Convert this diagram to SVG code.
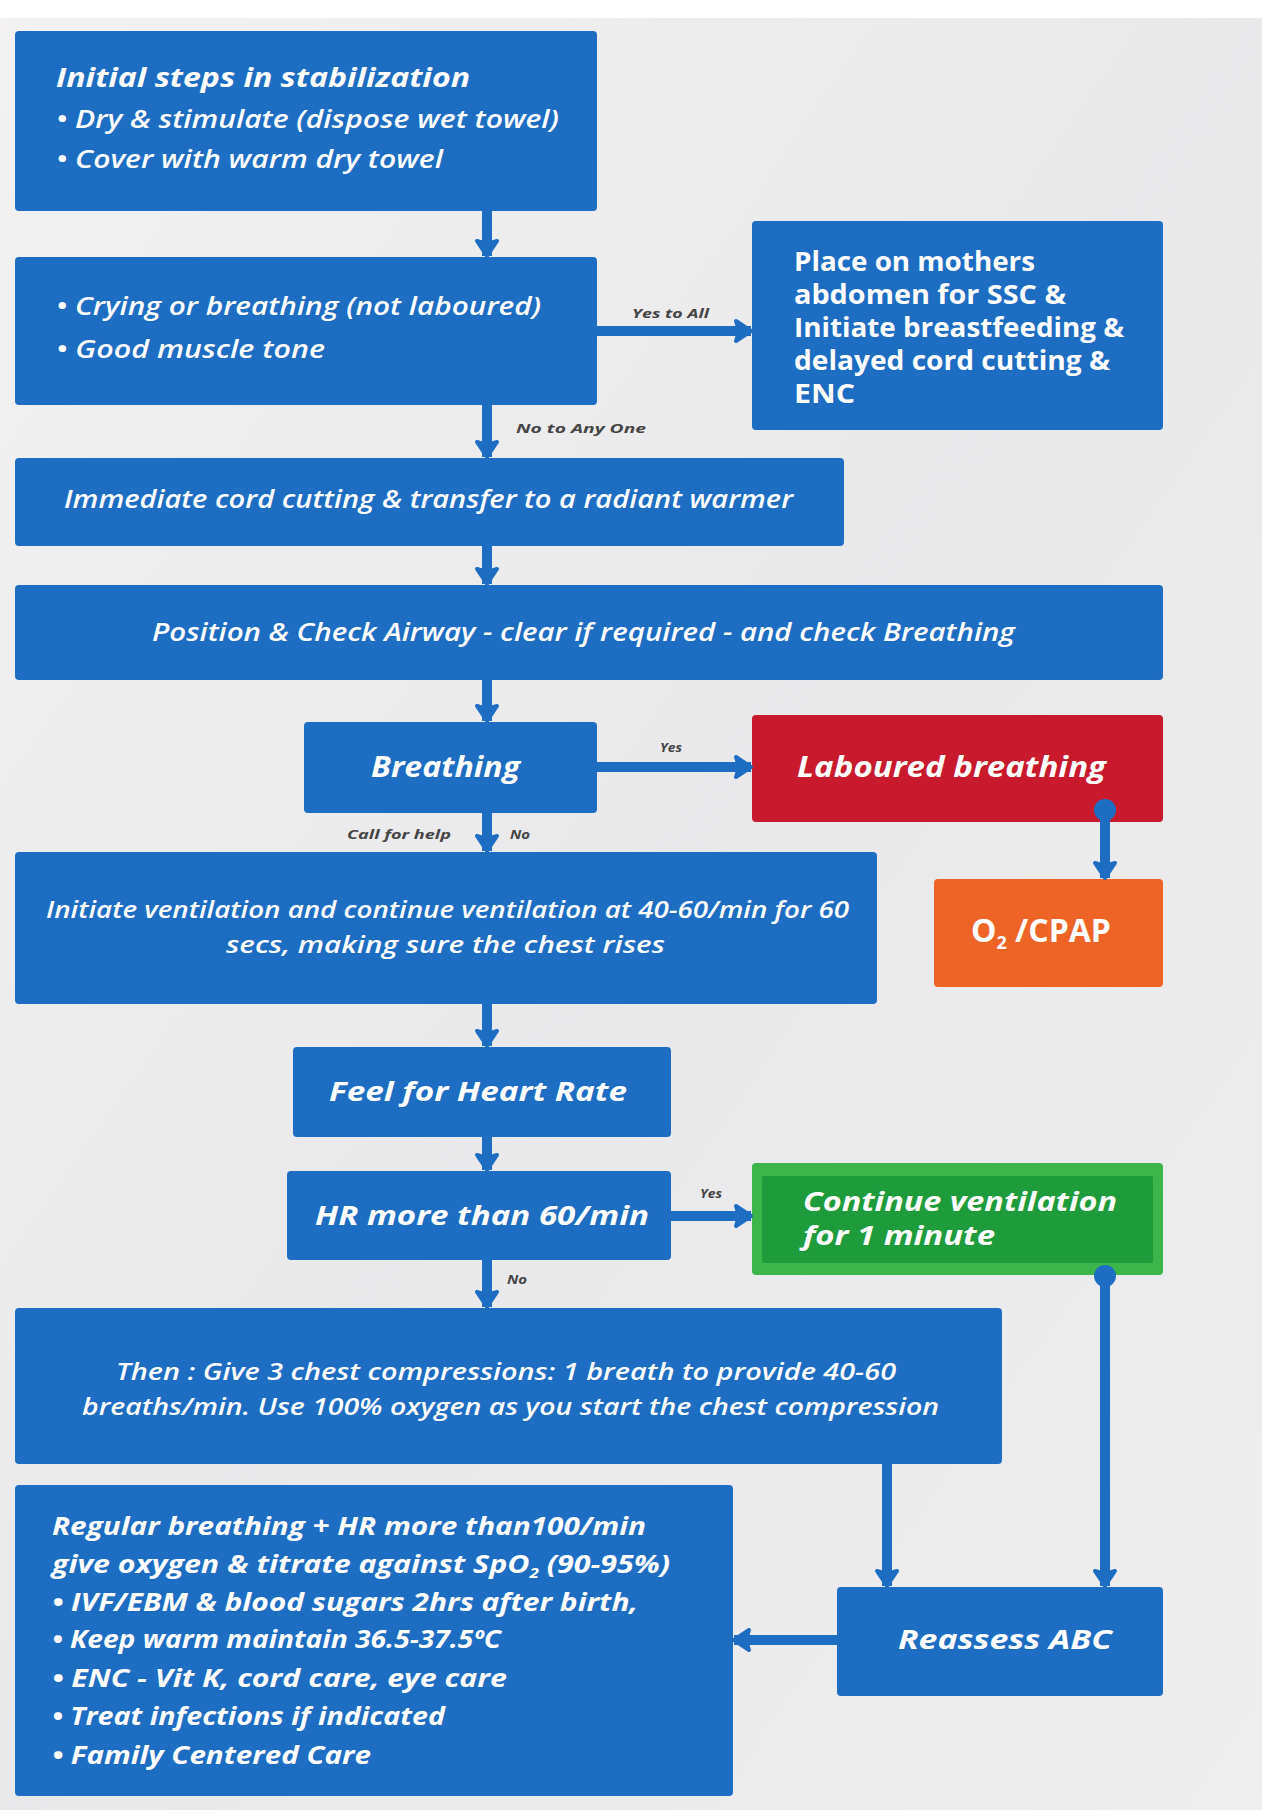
<svg xmlns="http://www.w3.org/2000/svg" width="1267" height="1818" viewBox="0 0 1267 1818">
<defs>
<linearGradient id="bg" x1="0" y1="0" x2="1" y2="1">
<stop offset="0" stop-color="#f3f1f1"/>
<stop offset="0.5" stop-color="#e9e9eb"/>
<stop offset="1" stop-color="#eeeeef"/>
</linearGradient>
<marker id="ah" markerUnits="userSpaceOnUse" markerWidth="30" markerHeight="30" viewBox="-20 -15 24 30" refX="0" refY="0" orient="auto">
<path d="M0,0 L-15,-10 L-12,0 L-15,10 Z" fill="#1d6dc2" stroke="#1d6dc2" stroke-width="4" stroke-linejoin="round"/>
</marker>
<marker id="dot" markerUnits="userSpaceOnUse" markerWidth="26" markerHeight="26" viewBox="-13 -13 26 26" refX="0" refY="0" orient="auto">
<circle cx="0" cy="0" r="11" fill="#1d6dc2"/>
</marker>
</defs>
<style>
.blue{fill:#1d6dc2}
.red{fill:#c81a2c}
.orange{fill:#ee6326}
.gout{fill:#3cb54a}
.gin{fill:#1e9b3b}
.t{fill:#ffffff;font-family:"Open Sans","DejaVu Sans",sans-serif;font-weight:700;font-style:italic}
.m{fill:#ffffff;font-family:"Open Sans","DejaVu Sans",sans-serif;font-weight:600;font-style:italic}
.u{fill:#ffffff;font-family:"Open Sans","DejaVu Sans",sans-serif;font-weight:700}
.lbl{fill:#444444;font-family:"Open Sans","DejaVu Sans",sans-serif;font-weight:700;font-style:italic;font-size:12px}
.c{fill:none;stroke:#1d6dc2;stroke-width:10}
</style>
<rect x="0" y="0" width="1267" height="1818" fill="#ffffff"/>
<rect x="0" y="18" width="1262" height="1792" fill="url(#bg)"/>

<g id="n1">
<rect class="blue" x="15" y="31" width="582" height="180" rx="4"/>
<text class="t" x="56" y="87" font-size="27" textLength="414" lengthAdjust="spacingAndGlyphs">Initial steps in stabilization</text>
<text class="m" x="56" y="128" font-size="26" textLength="503" lengthAdjust="spacingAndGlyphs">• Dry &amp; stimulate (dispose wet towel)</text>
<text class="m" x="56" y="168" font-size="26" textLength="387" lengthAdjust="spacingAndGlyphs">• Cover with warm dry towel</text>
</g>

<g id="n2">
<rect class="blue" x="15" y="257" width="582" height="148" rx="4"/>
<text class="m" x="56" y="315" font-size="26" textLength="485" lengthAdjust="spacingAndGlyphs">• Crying or breathing (not laboured)</text>
<text class="m" x="56" y="358" font-size="26" textLength="269" lengthAdjust="spacingAndGlyphs">• Good muscle tone</text>
</g>

<g id="n3">
<rect class="blue" x="752" y="221" width="411" height="209" rx="4"/>
<text class="u" x="794" y="271" font-size="26" textLength="241" lengthAdjust="spacingAndGlyphs">Place on mothers</text>
<text class="u" x="794" y="304" font-size="26" textLength="272" lengthAdjust="spacingAndGlyphs">abdomen for SSC &amp;</text>
<text class="u" x="794" y="337" font-size="26" textLength="330" lengthAdjust="spacingAndGlyphs">Initiate breastfeeding &amp;</text>
<text class="u" x="794" y="370" font-size="26" textLength="316" lengthAdjust="spacingAndGlyphs">delayed cord cutting &amp;</text>
<text class="u" x="794" y="403" font-size="26" textLength="61" lengthAdjust="spacingAndGlyphs">ENC</text>
</g>

<g id="n4">
<rect class="blue" x="15" y="458" width="829" height="88" rx="4"/>
<text class="m" x="64" y="508" font-size="26" textLength="729" lengthAdjust="spacingAndGlyphs">Immediate cord cutting &amp; transfer to a radiant warmer</text>
</g>

<g id="n5">
<rect class="blue" x="15" y="585" width="1148" height="95" rx="4"/>
<text class="m" x="152" y="641" font-size="26" textLength="863" lengthAdjust="spacingAndGlyphs">Position &amp; Check Airway - clear if required - and check Breathing</text>
</g>

<g id="n6">
<rect class="blue" x="304" y="722" width="293" height="91" rx="4"/>
<text class="t" x="371" y="777" font-size="28" textLength="149" lengthAdjust="spacingAndGlyphs">Breathing</text>
</g>

<g id="n7">
<rect class="red" x="752" y="715" width="411" height="107" rx="4"/>
<text class="t" x="797" y="777" font-size="28" textLength="309" lengthAdjust="spacingAndGlyphs">Laboured breathing</text>
</g>

<g id="n8">
<rect class="orange" x="934" y="879" width="229" height="108" rx="4"/>
<text class="u" x="971" y="942" font-size="32">O<tspan font-size="18" dy="7">2</tspan><tspan dy="-7"> /CPAP</tspan></text>
</g>

<g id="n9">
<rect class="blue" x="15" y="852" width="862" height="152" rx="4"/>
<text class="m" x="46" y="918" font-size="24" textLength="803" lengthAdjust="spacingAndGlyphs">Initiate ventilation and continue ventilation at 40-60/min for 60</text>
<text class="m" x="226" y="953" font-size="24" textLength="439" lengthAdjust="spacingAndGlyphs">secs, making sure the chest rises</text>
</g>

<g id="n10">
<rect class="blue" x="293" y="1047" width="378" height="90" rx="4"/>
<text class="t" x="329" y="1101" font-size="27" textLength="298" lengthAdjust="spacingAndGlyphs">Feel for Heart Rate</text>
</g>

<g id="n11">
<rect class="blue" x="287" y="1171" width="384" height="89" rx="4"/>
<text class="t" x="315" y="1225" font-size="27" textLength="334" lengthAdjust="spacingAndGlyphs">HR more than 60/min</text>
</g>

<g id="n12">
<rect class="gout" x="752" y="1163" width="411" height="112" rx="4"/>
<rect class="gin" x="762" y="1176" width="391" height="87" rx="2"/>
<text class="t" x="803" y="1211" font-size="27" textLength="314" lengthAdjust="spacingAndGlyphs">Continue ventilation</text>
<text class="t" x="803" y="1245" font-size="27" textLength="192" lengthAdjust="spacingAndGlyphs">for 1 minute</text>
</g>

<g id="n13">
<rect class="blue" x="15" y="1308" width="987" height="156" rx="4"/>
<text class="m" x="116" y="1380" font-size="24" textLength="780" lengthAdjust="spacingAndGlyphs">Then : Give 3 chest compressions: 1 breath to provide 40-60</text>
<text class="m" x="82" y="1415" font-size="24" textLength="857" lengthAdjust="spacingAndGlyphs">breaths/min. Use 100% oxygen as you start the chest compression</text>
</g>

<g id="n14">
<rect class="blue" x="837" y="1587" width="326" height="109" rx="4"/>
<text class="t" x="898" y="1649" font-size="27" textLength="214" lengthAdjust="spacingAndGlyphs">Reassess ABC</text>
</g>

<g id="n15">
<rect class="blue" x="15" y="1485" width="718" height="311" rx="4"/>
<text class="t" x="52" y="1535" font-size="25" textLength="594" lengthAdjust="spacingAndGlyphs">Regular breathing + HR more than100/min</text>
<text class="t" x="52" y="1573" font-size="25" textLength="618" lengthAdjust="spacingAndGlyphs">give oxygen &amp; titrate against SpO<tspan font-size="14" dy="5">2</tspan><tspan dy="-5"> (90-95%)</tspan></text>
<text class="t" x="52" y="1611" font-size="25" textLength="586" lengthAdjust="spacingAndGlyphs">• IVF/EBM &amp; blood sugars 2hrs after birth,</text>
<text class="t" x="52" y="1648" font-size="25" textLength="449" lengthAdjust="spacingAndGlyphs">• Keep warm maintain 36.5-37.5ºC</text>
<text class="t" x="52" y="1687" font-size="25" textLength="455" lengthAdjust="spacingAndGlyphs">• ENC - Vit K, cord care, eye care</text>
<text class="t" x="52" y="1725" font-size="25" textLength="393" lengthAdjust="spacingAndGlyphs">• Treat infections if indicated</text>
<text class="t" x="52" y="1764" font-size="25" textLength="319" lengthAdjust="spacingAndGlyphs">• Family Centered Care</text>
</g>

<g id="connectors">
<path class="c" d="M487,211 L487,256" marker-end="url(#ah)"/>
<path class="c" d="M487,405 L487,457" marker-end="url(#ah)"/>
<path class="c" d="M487,546 L487,584" marker-end="url(#ah)"/>
<path class="c" d="M487,680 L487,721" marker-end="url(#ah)"/>
<path class="c" d="M487,813 L487,851" marker-end="url(#ah)"/>
<path class="c" d="M487,1004 L487,1046" marker-end="url(#ah)"/>
<path class="c" d="M487,1137 L487,1170" marker-end="url(#ah)"/>
<path class="c" d="M487,1260 L487,1307" marker-end="url(#ah)"/>
<path class="c" d="M597,331 L751,331" marker-end="url(#ah)"/>
<path class="c" d="M597,767 L751,767" marker-end="url(#ah)"/>
<path class="c" d="M671,1216 L751,1216" marker-end="url(#ah)"/>
<path class="c" d="M1105,810 L1105,878" marker-start="url(#dot)" marker-end="url(#ah)"/>
<path class="c" d="M887,1464 L887,1586" marker-end="url(#ah)"/>
<path class="c" d="M1105,1276 L1105,1586" marker-start="url(#dot)" marker-end="url(#ah)"/>
<path class="c" d="M837,1640 L734,1640" marker-end="url(#ah)"/>
<text class="lbl" x="632" y="318" textLength="77" lengthAdjust="spacingAndGlyphs">Yes to All</text>
<text class="lbl" x="516" y="433" textLength="130" lengthAdjust="spacingAndGlyphs">No to Any One</text>
<text class="lbl" x="660" y="752" textLength="22" lengthAdjust="spacingAndGlyphs">Yes</text>
<text class="lbl" x="347" y="839" textLength="104" lengthAdjust="spacingAndGlyphs">Call for help</text>
<text class="lbl" x="510" y="839" textLength="20" lengthAdjust="spacingAndGlyphs">No</text>
<text class="lbl" x="700" y="1198" textLength="22" lengthAdjust="spacingAndGlyphs">Yes</text>
<text class="lbl" x="507" y="1284" textLength="20" lengthAdjust="spacingAndGlyphs">No</text>
</g>
</svg>
